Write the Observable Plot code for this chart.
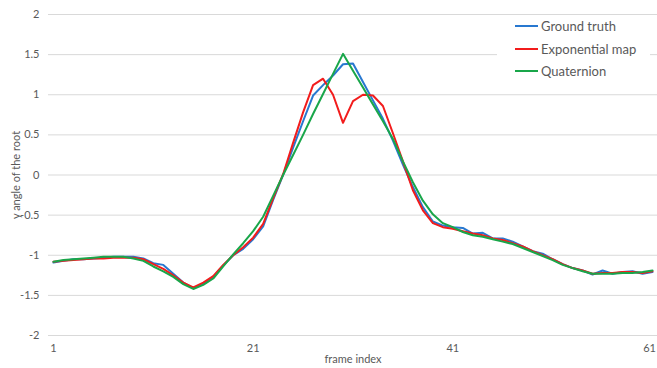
<!DOCTYPE html>
<html><head><meta charset="utf-8">
<script src="https://cdn.jsdelivr.net/npm/d3@7"></script>
<script src="https://cdn.jsdelivr.net/npm/@observablehq/plot@0.6"></script>
<style>
body{margin:0;background:#fff;}
#wrap{position:relative;width:657px;height:368px;font-family:Lato,"Liberation Sans",sans-serif;}
#legend{position:absolute;left:497px;top:16px;width:153px;height:68px;background:#fff;}
.item{position:absolute;left:18px;height:16px;line-height:16px;display:flex;align-items:center;font-size:13px;color:#595959;white-space:nowrap;}
.sw{width:23px;height:2px;margin-right:3px;}
</style></head>
<body>
<div id="wrap"><div id="legend"></div></div>
<script>
const frames = d3.range(1, 62);
const groundTruth = [-1.09,-1.07,-1.05,-1.05,-1.04,-1.03,-1.02,-1.02,-1.02,-1.04,
  -1.10,-1.12,-1.23,-1.34,-1.41,-1.36,-1.27,-1.13,-1.00,-0.92,
  -0.80,-0.64,-0.31,0.00,0.34,0.67,0.99,1.12,1.24,1.38,
  1.39,1.16,0.93,0.70,0.43,0.13,-0.15,-0.40,-0.58,-0.63,
  -0.65,-0.66,-0.73,-0.72,-0.79,-0.79,-0.83,-0.89,-0.95,-0.98,
  -1.05,-1.11,-1.16,-1.19,-1.24,-1.19,-1.23,-1.21,-1.20,-1.23,-1.21];
const expMap = [-1.08,-1.07,-1.06,-1.05,-1.04,-1.04,-1.03,-1.03,-1.03,-1.05,
  -1.11,-1.17,-1.25,-1.34,-1.40,-1.34,-1.26,-1.12,-1.00,-0.90,
  -0.78,-0.61,-0.29,0.01,0.40,0.78,1.12,1.20,1.00,0.65,
  0.92,1.00,0.99,0.86,0.52,0.17,-0.19,-0.44,-0.60,-0.65,
  -0.67,-0.70,-0.73,-0.75,-0.79,-0.81,-0.85,-0.89,-0.95,-1.00,
  -1.05,-1.11,-1.16,-1.19,-1.23,-1.22,-1.22,-1.21,-1.21,-1.22,-1.20];
const quaternion = [-1.08,-1.06,-1.05,-1.04,-1.03,-1.02,-1.02,-1.02,-1.04,-1.07,
  -1.14,-1.20,-1.27,-1.36,-1.42,-1.37,-1.29,-1.14,-0.99,-0.85,
  -0.70,-0.52,-0.26,0.00,0.25,0.50,0.76,1.01,1.26,1.51,
  1.30,1.09,0.88,0.67,0.45,0.17,-0.09,-0.32,-0.49,-0.60,
  -0.65,-0.71,-0.75,-0.77,-0.80,-0.83,-0.86,-0.91,-0.96,-1.01,
  -1.06,-1.12,-1.16,-1.20,-1.23,-1.23,-1.23,-1.22,-1.22,-1.21,-1.19];
const seriesNames = ["Ground truth", "Exponential map", "Quaternion"];
const seriesColors = ["#2878d0", "#f21c1c", "#19a64a"];
const xTicks = [1, 21, 41, 61];
const yTicks = [-2, -1.5, -1, -0.5, 0, 0.5, 1, 1.5, 2];

const seriesValues = [groundTruth, expMap, quaternion];
const data = seriesNames.flatMap((name, i) =>
  seriesValues[i].map((v, j) => ({series: name, frame: frames[j], value: v})));

const chart = Plot.plot({
  width: 657, height: 368,
  marginLeft: 48, marginRight: 0, marginTop: 14, marginBottom: 33,
  style: {fontFamily: "Lato, 'Liberation Sans', sans-serif", fontSize: "11px", color: "#595959", background: "#fff"},
  x: {domain: [0.5, 61.5], label: null},
  y: {domain: [-2, 2], ticks: yTicks, tickSize: 0, tickPadding: 9, tickFormat: d => String(d),
      label: "y angle of the root", labelAnchor: "center", labelOffset: 36, labelArrow: false},
  color: {domain: seriesNames, range: seriesColors},
  marks: [
    Plot.ruleY(yTicks, {stroke: "#d9d9d9", strokeWidth: 1}),
    Plot.axisX(xTicks.slice(0, -1), {tickSize: 0, tickPadding: 9, tickFormat: d => String(d), label: null}),
    Plot.axisX(xTicks.slice(-1), {tickSize: 0, tickPadding: 9, tickFormat: d => String(d), dx: -3, label: null}),
    Plot.axisX({ticks: [], tickSize: 0, label: "frame index", labelAnchor: "center", labelOffset: 27, labelArrow: false}),
    Plot.line(data, {x: "frame", y: "value", z: "series", stroke: "series", strokeWidth: 2})
  ]
});
const wrap = document.getElementById("wrap");
wrap.insertBefore(chart, wrap.firstChild);

const legend = document.getElementById("legend");
const rowTops = [2, 25, 47];
seriesNames.forEach((name, i) => {
  const item = document.createElement("div");
  item.className = "item";
  item.style.top = rowTops[i] + "px";
  const sw = document.createElement("span");
  sw.className = "sw";
  sw.style.background = seriesColors[i];
  const t = document.createElement("span");
  t.textContent = name;
  item.appendChild(sw); item.appendChild(t);
  legend.appendChild(item);
});
</script>
</body></html>
